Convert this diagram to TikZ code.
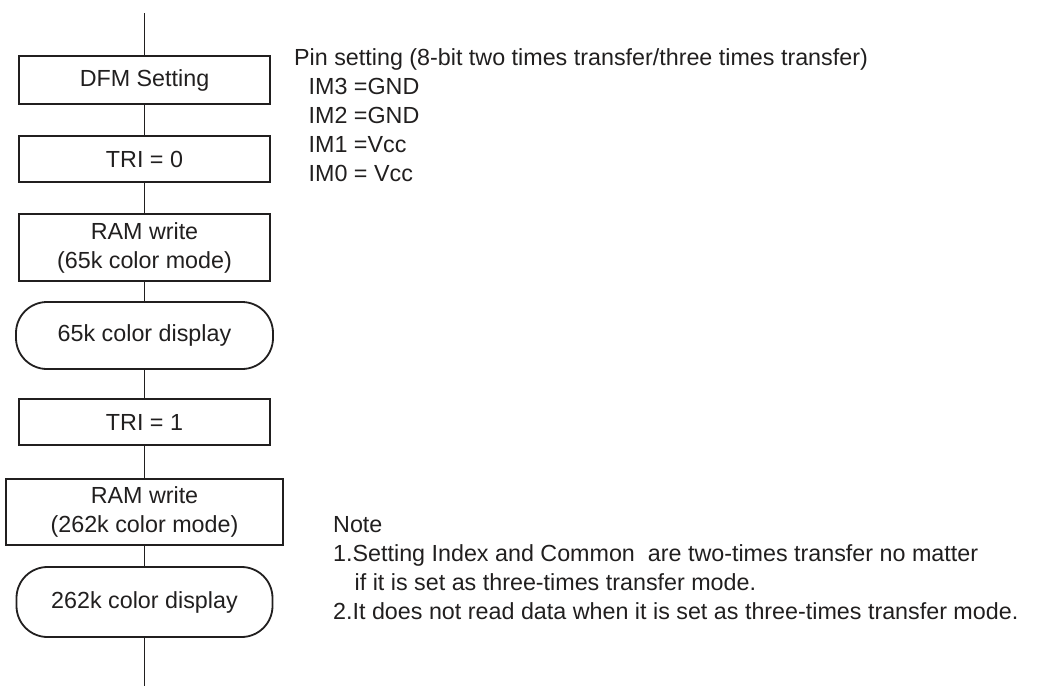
\documentclass[tikz,border=0pt]{standalone}
\usepackage{fontspec}
\setmainfont{Liberation Sans}
\usetikzlibrary{positioning}
\definecolor{ink}{rgb}{0.13,0.12,0.12}
\begin{document}
\begin{tikzpicture}[x=1pt,y=1pt,
  every node/.style={font=\fontsize{23.3pt}{29pt}\selectfont, text=ink, inner sep=0pt},
  procbox/.style={draw=ink, line width=1.8pt, rectangle, align=center},
  termbox/.style={draw=ink, line width=1.8pt, rectangle, rounded corners=31pt, align=center},
  flow/.style={draw=ink, line width=1.8pt},
  remark/.style={anchor=base west}]
\useasboundingbox (0,0) rectangle (1053,-686);

% flowchart column
\coordinate (top) at (144.5,-13);
\node[procbox, minimum width=251pt, minimum height=48pt] (dfm)   at (144.5,-80)    {DFM Setting};
\node[procbox, minimum width=251pt, minimum height=46pt] (tri0)  at (144.5,-159)   {TRI = 0};
\node[procbox, minimum width=251pt, minimum height=67pt] (ram65) at (144.5,-247.5) {RAM write\\(65k color mode)};
\node[termbox, minimum width=257pt, minimum height=67pt] (disp65) at (144.5,-335.5) {65k color display};
\node[procbox, minimum width=251pt, minimum height=46pt] (tri1)  at (144.5,-422)   {TRI = 1};
\node[procbox, minimum width=277pt, minimum height=66pt] (ram262) at (144.5,-512)  {RAM write\\(262k color mode)};
\node[termbox, minimum width=256pt, minimum height=70pt] (disp262) at (144.5,-602) {262k color display};
\coordinate (bottom) at (144.5,-686);

\draw[flow] (top) -- (dfm.north);
\draw[flow] (dfm) -- (tri0);
\draw[flow] (tri0) -- (ram65);
\draw[flow] (ram65) -- (disp65);
\draw[flow] (disp65) -- (tri1);
\draw[flow] (tri1) -- (ram262);
\draw[flow] (ram262) -- (disp262);
\draw[flow] (disp262.south) -- (bottom);

% pin setting remark
\node[remark] (pin)  at (294,-65.5)   {Pin setting (8-bit two times transfer/three times transfer)};
\node[remark] (im3)  at (308.5,-94.5) {IM3 =GND};
\node[remark] (im2)  at (308.5,-123.5){IM2 =GND};
\node[remark] (im1)  at (308.5,-152.5){IM1 =Vcc};
\node[remark] (im0)  at (308.5,-181.5){IM0 = Vcc};

% notes
\node[remark] (note)  at (333,-532)   {Note};
\node[remark] (note1) at (333,-561)   {1.Setting Index and Common\ \ are two-times transfer no matter};
\node[remark] (note1b) at (354.5,-590){if it is set as three-times transfer mode.};
\node[remark] (note2) at (333,-619)   {2.It does not read data when it is set as three-times transfer mode.};
\end{tikzpicture}
\end{document}
